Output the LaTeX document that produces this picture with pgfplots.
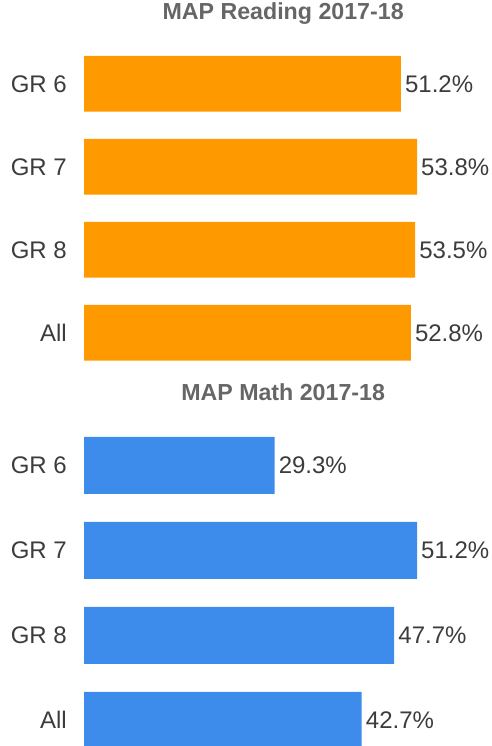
\documentclass[border=0pt]{standalone}
\usepackage{fontspec}
\setmainfont{Liberation Sans}
\usepackage{pgfplots}
\pgfplotsset{compat=1.18}
\definecolor{barorange}{HTML}{FF9900}
\definecolor{barblue}{HTML}{3D8CEC}
\definecolor{lbl}{HTML}{3C3C3C}
\definecolor{ttl}{HTML}{666666}
\pgfplotsset{
  mybar/.style={
    xbar, scale only axis, width=333pt, xmin=0,
    y dir=reverse, ymin=-0.5, ymax=3.5,
    axis line style={draw=none}, major tick length=0pt, tick style={draw=none},
    xtick=\empty, ytick={0,1,2,3}, yticklabels={GR 6,GR 7,GR 8,All},
    yticklabel style={font=\fontsize{24}{25}\selectfont, text=lbl, inner sep=0pt, anchor=east, xshift=-17pt},
    clip=false,
    point meta=x,
    nodes near coords={\pgfmathprintnumber[fixed,fixed zerofill,precision=1]{\pgfplotspointmeta}\%},
    every node near coord/.append style={font=\fontsize{24}{25}\selectfont, text=lbl, inner sep=0pt, anchor=west, xshift=4pt},
    title style={font=\bfseries\fontsize{23.2}{24}\selectfont, text=ttl, inner sep=0pt, anchor=base, at={(axis description cs:0.598,1)}, yshift=16.6pt},
    /pgf/number format/assume math mode=true,
  }
}
\begin{document}
\begin{tikzpicture}
\begin{axis}[mybar, at={(84pt,371.7pt)}, anchor=south west, height=332pt, xmax=53.8,
  bar width=55.7pt, title={MAP Reading 2017-18}]
\addplot[fill=barorange, draw=none] coordinates {(51.2,0) (53.8,1) (53.5,2) (52.8,3)};
\end{axis}
\begin{axis}[mybar, at={(84pt,-16.8pt)}, anchor=south west, height=340pt, xmax=51.2,
  bar width=57pt, title={MAP Math 2017-18}]
\addplot[fill=barblue, draw=none] coordinates {(29.3,0) (51.2,1) (47.7,2) (42.7,3)};
\end{axis}
\pgfresetboundingbox
\path (0,0) rectangle (491pt,746pt);
\end{tikzpicture}
\end{document}
